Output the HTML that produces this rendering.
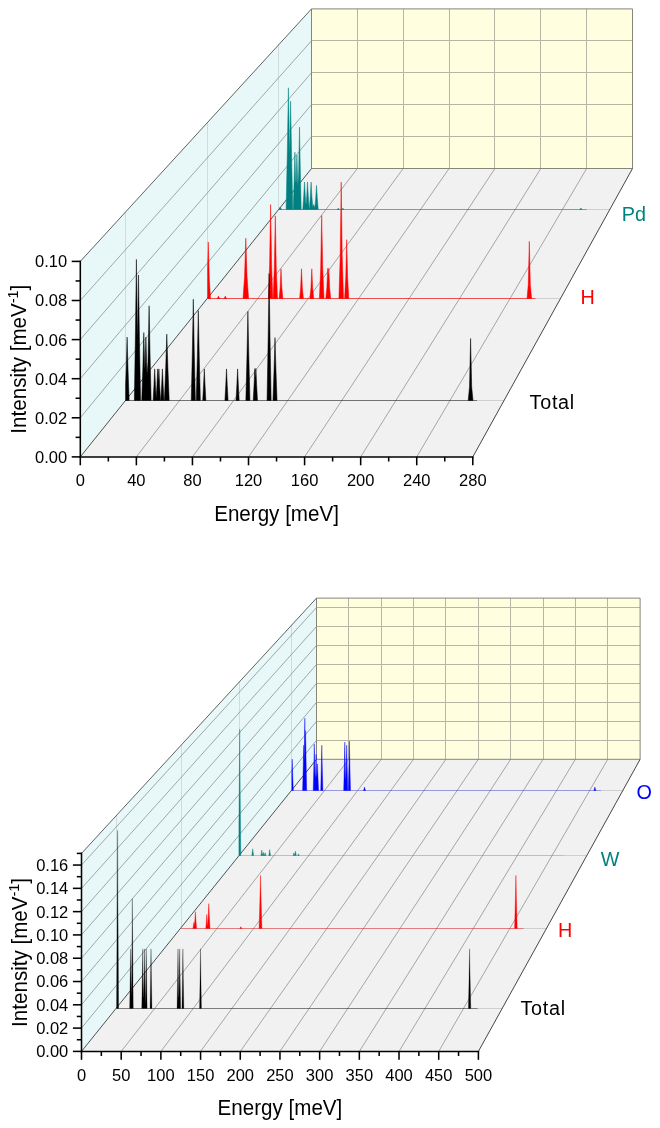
<!DOCTYPE html>
<html lang="en">
<head>
<meta charset="utf-8">
<title>Vibrational spectra</title>
<style>
html,body{margin:0;padding:0;background:#fff;}
body{width:660px;height:1128px;overflow:hidden;}
svg{display:block;font-family:"Liberation Sans", Arial, Helvetica, sans-serif;}
</style>
</head>
<body>
<svg width="660" height="1128" viewBox="0 0 660 1128">
<rect width="660" height="1128" fill="#fff"/>
<g id="plot-top">
<polygon points="311.5,8.9 632.5,8.9 632.5,168.5 311.5,168.5" fill="#ffffe0"/>
<polygon points="80.3,261.4 311.5,8.9 311.5,168.5 80.3,456.9" fill="#e8f8f8"/>
<polygon points="80.3,456.9 311.5,168.5 632.5,168.5 472.8,456.9" fill="#f1f1f1"/>
<line x1="357.5" y1="168.5" x2="357.5" y2="8.9" stroke="#b6b6a4" stroke-width="1"/>
<line x1="403.5" y1="168.5" x2="403.5" y2="8.9" stroke="#b6b6a4" stroke-width="1"/>
<line x1="449.5" y1="168.5" x2="449.5" y2="8.9" stroke="#b6b6a4" stroke-width="1"/>
<line x1="494.5" y1="168.5" x2="494.5" y2="8.9" stroke="#b6b6a4" stroke-width="1"/>
<line x1="540.5" y1="168.5" x2="540.5" y2="8.9" stroke="#b6b6a4" stroke-width="1"/>
<line x1="586.5" y1="168.5" x2="586.5" y2="8.9" stroke="#b6b6a4" stroke-width="1"/>
<line x1="311.5" y1="136.5" x2="632.5" y2="136.5" stroke="#b6b6a4" stroke-width="1"/>
<line x1="311.5" y1="104.5" x2="632.5" y2="104.5" stroke="#b6b6a4" stroke-width="1"/>
<line x1="311.5" y1="72.5" x2="632.5" y2="72.5" stroke="#b6b6a4" stroke-width="1"/>
<line x1="311.5" y1="40.5" x2="632.5" y2="40.5" stroke="#b6b6a4" stroke-width="1"/>
<line x1="125.5" y1="400.15" x2="125.5" y2="211.71" stroke="#d0dcdc" stroke-width="1"/>
<line x1="125.73" y1="400.5" x2="504.18" y2="400.5" stroke="#cfcfcf" stroke-width="1"/>
<line x1="207.5" y1="298.12" x2="207.5" y2="122.39" stroke="#d0dcdc" stroke-width="1"/>
<line x1="207.48" y1="298.5" x2="560.65" y2="298.5" stroke="#cfcfcf" stroke-width="1"/>
<line x1="278.5" y1="208.98" x2="278.5" y2="44.34" stroke="#d0dcdc" stroke-width="1"/>
<line x1="279" y1="209.5" x2="610.05" y2="209.5" stroke="#cfcfcf" stroke-width="1"/>
<line x1="80.3" y1="417.8" x2="311.5" y2="136.58" stroke="#7a8282" stroke-width="0.68"/>
<line x1="80.3" y1="378.7" x2="311.5" y2="104.66" stroke="#7a8282" stroke-width="0.68"/>
<line x1="80.3" y1="339.6" x2="311.5" y2="72.74" stroke="#7a8282" stroke-width="0.68"/>
<line x1="80.3" y1="300.5" x2="311.5" y2="40.82" stroke="#7a8282" stroke-width="0.68"/>
<line x1="136.37" y1="456.9" x2="357.36" y2="168.5" stroke="#7c7c7c" stroke-width="0.65"/>
<line x1="192.44" y1="456.9" x2="403.21" y2="168.5" stroke="#7c7c7c" stroke-width="0.65"/>
<line x1="248.51" y1="456.9" x2="449.07" y2="168.5" stroke="#7c7c7c" stroke-width="0.65"/>
<line x1="304.59" y1="456.9" x2="494.93" y2="168.5" stroke="#7c7c7c" stroke-width="0.65"/>
<line x1="360.66" y1="456.9" x2="540.79" y2="168.5" stroke="#7c7c7c" stroke-width="0.65"/>
<line x1="416.73" y1="456.9" x2="586.64" y2="168.5" stroke="#7c7c7c" stroke-width="0.65"/>
<g fill="none" stroke="#5a5a5a" stroke-width="0.9" stroke-linejoin="round">
<polygon points="311.5,8.9 632.5,8.9 632.5,168.5 311.5,168.5" fill="none" stroke="#85857a" stroke-width="1"/>
<line x1="80.3" y1="261.4" x2="311.5" y2="8.9" stroke="#505050" stroke-width="0.9"/>
<line x1="80.3" y1="456.9" x2="311.5" y2="168.5" stroke="#333" stroke-width="0.85"/>
<line x1="472.8" y1="456.9" x2="632.5" y2="168.5" stroke="#3c3c3c" stroke-width="0.95"/>
</g>
<line x1="279.3" y1="209.5" x2="586.7" y2="209.5" stroke="#008080" stroke-width="1" stroke-opacity="0.5"/>
<path d="M279.3,209.5L279.3,209.5L279.3,208.72L279.57,208.3L280.2,207.1L280.83,208.3L281.6,209.5L281.6,209.5ZM286.1,209.5L286.1,209.5L287.36,148.89L288.4,87.8L289.44,148.89L289.61,155.4L290.6,101.3L290.7,106.76L291.59,155.4L292.8,209.5L292.8,209.5ZM293.2,209.5L293.2,209.5L294.13,181L294.9,152.2L295.2,163.44L295.66,180.66L296.13,182.35L296.6,165.61L296.9,154.9L297.66,182.02L297.8,186.14L298.6,174.25L298.74,168.03L299.5,127.1L300.26,168.03L301.2,209.5L301.2,209.5ZM302.8,209.5L302.8,209.5L303.74,195.66L304.5,182L305.26,195.66L305.8,203.62L306.2,203.62L306.74,195.66L307.5,182L308.26,195.66L309.2,209.5L309.2,209.5ZM309.4,209.5L309.4,209.5L310.34,195.66L311.1,182L311.87,195.82L312,197.74L312.8,207.4L312.94,207.03L313.7,204.6L314.46,207.03L314.8,207.93L315.4,201.77L315.74,197.37L316.5,185.4L317.26,197.37L318.2,209.5L318.2,209.5ZM337.2,209.5L337.2,209.5L337.81,208.84L338.3,208.2L338.8,208.86L339.4,209.5L339.4,209.5ZM341.8,209.5L341.8,209.5L342.4,208.86L342.9,208.2L343.39,208.84L344,209.5L344,209.5ZM579.8,209.5L579.8,209.5L580.4,208.81L580.9,208.1L581.39,208.79L582,209.5L582,209.5Z" fill="#008080" stroke="#008080" stroke-width="0.5" stroke-linejoin="miter" stroke-miterlimit="2"/>
<text transform="translate(621.7,221) scale(1,1.03)" font-size="19.8" fill="#008080" text-anchor="start">Pd</text>
<line x1="207.6" y1="298.5" x2="535.5" y2="298.5" stroke="#ff0000" stroke-width="1" stroke-opacity="0.62"/>
<path d="M207.6,298.5L207.6,298.5L207.6,267.57L208.3,242L209.29,278.16L210.5,298.5L210.5,298.5ZM216.9,298.5L216.9,298.5L217.78,297.64L218.5,296.1L219.22,297.64L220.1,298.5L220.1,298.5ZM223.7,298.5L223.7,298.5L224.58,297.64L225.3,296.1L226.02,297.64L226.9,298.5L226.9,298.5ZM243,298.5L243,298.5L244.54,276.79L245.8,238.2L247.06,276.79L248.6,298.5L248.6,298.5ZM268.4,298.5L268.4,298.5L269.61,264.66L270.6,204.5L271.59,264.66L272.8,298.5L272.8,298.5ZM273.1,298.5L273.1,298.5L274.31,268.76L275.3,215.9L276.29,268.76L277.5,298.5L277.5,298.5ZM279.1,298.5L279.1,298.5L280.14,287.86L281,268.8L281.86,287.86L282.9,298.5L282.9,298.5ZM299.6,298.5L299.6,298.5L300.64,287.86L301.5,268.8L302.36,287.86L303.4,298.5L303.4,298.5ZM309.9,298.5L309.9,298.5L310.94,287.86L311.8,268.8L312.66,287.86L313.7,298.5L313.7,298.5ZM319.4,298.5L319.4,298.5L320.66,268.74L321.7,215.5L322.74,268.74L324,298.5L324,298.5ZM325.8,298.5L325.8,298.5L326.84,287.68L326.9,286.38L327.7,268.3L327.94,273.73L328.56,273.73L328.8,268.3L329.6,286.38L329.66,287.68L330.7,298.5L330.7,298.5ZM338.9,298.5L338.9,298.5L340.16,256.76L341.2,182.1L342.24,256.76L343.5,298.5L343.5,298.5ZM344.6,298.5L344.6,298.5L345.75,277.42L346.7,239.7L347.64,277.13L348.8,298.5L348.8,298.5ZM527,298.5L527,298.5L528.26,284.85L529.3,241.4L530.33,284.59L531.6,298.5L531.6,298.5Z" fill="#ff0000" stroke="#ff0000" stroke-width="0.5" stroke-linejoin="miter" stroke-miterlimit="2"/>
<text transform="translate(580.4,304) scale(1,1.03)" font-size="19.8" fill="#ff0000" text-anchor="start">H</text>
<line x1="125.6" y1="400.5" x2="477" y2="400.5" stroke="#000000" stroke-width="1" stroke-opacity="0.45"/>
<path d="M125.6,400.5L125.6,400.5L125.6,385.04L126.18,368.71L127.1,337.1L128.02,368.71L129.15,400.5L129.15,400.5ZM134.35,400.5L134.35,400.5L135.48,329.76L136.4,259.4L136.45,263.22L137.32,329.76L137.58,337.58L138.45,278.4L138.5,275L139.42,337.58L140.55,400.5L140.55,400.5ZM141.75,400.5L141.75,400.5L142.88,366.46L143.8,332.6L143.85,334.44L144.72,366.46L144.98,368.71L145.85,338.82L145.9,337.1L146.82,368.71L147.05,375.2L147.95,362.7L148.18,353.02L149.1,305.8L150.02,353.02L151.15,400.5L151.15,400.5ZM153.1,400.5L153.1,400.5L153.98,384.7L154.7,368.9L155.42,384.7L156.1,396.91L156.3,396.91L156.98,384.7L157.3,377.68L157.7,368.9L158.18,379.43L158.42,379.43L158.9,368.9L159.3,377.68L159.62,384.7L160.5,400.5L160.5,400.5ZM160.8,400.5L160.8,400.5L161.68,384.7L162.4,368.9L163.12,384.7L164,400.5L164,400.5ZM164.4,400.5L164.4,400.5L165.72,367.3L166.8,334.1L167.88,367.3L169.2,400.5L169.2,400.5ZM191.25,400.5L191.25,400.5L192.38,349.71L193.3,299.2L194.22,349.71L195.35,400.5L195.35,400.5ZM196.25,400.5L196.25,400.5L197.38,355.43L198.3,310.6L199.22,355.43L200.35,400.5L200.35,400.5ZM202.7,400.5L202.7,400.5L203.58,384.7L204.3,368.9L205.02,384.7L205.9,400.5L205.9,400.5ZM224.9,400.5L224.9,400.5L225.78,384.7L226.5,368.9L227.22,384.7L228.1,400.5L228.1,400.5ZM236,400.5L236,400.5L236.88,384.7L237.6,368.9L238.32,384.7L239.2,400.5L239.2,400.5ZM245.85,400.5L245.85,400.5L246.98,355.83L247.9,311.4L248.82,355.83L249.95,400.5L249.95,400.5ZM253.2,400.5L253.2,400.5L254.08,384.5L254.3,379.61L254.8,368.5L255.18,376.94L255.52,376.94L255.9,368.5L256.4,379.61L256.62,384.5L257.5,400.5L257.5,400.5ZM267.05,400.5L267.05,400.5L268.18,336.83L269.1,273.5L270.02,336.83L271.15,400.5L271.15,400.5ZM272.95,400.5L272.95,400.5L274.08,368.96L275,337.6L275.92,368.96L277.05,400.5L277.05,400.5ZM468.2,400.5L468.2,400.5L469.52,386.86L470.6,338.5L471.68,386.86L473,400.5L473,400.5Z" fill="#000000" stroke="#000000" stroke-width="0.5" stroke-linejoin="miter" stroke-miterlimit="2"/>
<text transform="translate(529.6,409.4) scale(1,1.03)" font-size="19.8" fill="#000000" text-anchor="start" letter-spacing="0.7">Total</text>
<g stroke="#000" stroke-width="1.55" stroke-linecap="butt">
<line x1="80.3" y1="260.62" x2="80.3" y2="457.67"/>
<line x1="79.52" y1="456.9" x2="473.57" y2="456.9"/>
<line x1="80.3" y1="456.9" x2="80.3" y2="465.3"/>
<line x1="136.37" y1="456.9" x2="136.37" y2="465.3"/>
<line x1="192.44" y1="456.9" x2="192.44" y2="465.3"/>
<line x1="248.51" y1="456.9" x2="248.51" y2="465.3"/>
<line x1="304.59" y1="456.9" x2="304.59" y2="465.3"/>
<line x1="360.66" y1="456.9" x2="360.66" y2="465.3"/>
<line x1="416.73" y1="456.9" x2="416.73" y2="465.3"/>
<line x1="472.8" y1="456.9" x2="472.8" y2="465.3"/>
<line x1="108.34" y1="456.9" x2="108.34" y2="461.5"/>
<line x1="164.41" y1="456.9" x2="164.41" y2="461.5"/>
<line x1="220.48" y1="456.9" x2="220.48" y2="461.5"/>
<line x1="276.55" y1="456.9" x2="276.55" y2="461.5"/>
<line x1="332.62" y1="456.9" x2="332.62" y2="461.5"/>
<line x1="388.69" y1="456.9" x2="388.69" y2="461.5"/>
<line x1="444.76" y1="456.9" x2="444.76" y2="461.5"/>
<line x1="80.3" y1="456.9" x2="71.7" y2="456.9"/>
<line x1="80.3" y1="417.8" x2="71.7" y2="417.8"/>
<line x1="80.3" y1="378.7" x2="71.7" y2="378.7"/>
<line x1="80.3" y1="339.6" x2="71.7" y2="339.6"/>
<line x1="80.3" y1="300.5" x2="71.7" y2="300.5"/>
<line x1="80.3" y1="261.4" x2="71.7" y2="261.4"/>
<line x1="80.3" y1="437.35" x2="75.6" y2="437.35"/>
<line x1="80.3" y1="398.25" x2="75.6" y2="398.25"/>
<line x1="80.3" y1="359.15" x2="75.6" y2="359.15"/>
<line x1="80.3" y1="320.05" x2="75.6" y2="320.05"/>
<line x1="80.3" y1="280.95" x2="75.6" y2="280.95"/>
</g>
<g font-size="16.5" fill="#000">
<text x="80.3" y="486" text-anchor="middle">0</text>
<text x="136.37" y="486" text-anchor="middle">40</text>
<text x="192.44" y="486" text-anchor="middle">80</text>
<text x="248.51" y="486" text-anchor="middle">120</text>
<text x="304.59" y="486" text-anchor="middle">160</text>
<text x="360.66" y="486" text-anchor="middle">200</text>
<text x="416.73" y="486" text-anchor="middle">240</text>
<text x="472.8" y="486" text-anchor="middle">280</text>
<text x="67.1" y="462.8" text-anchor="end">0.00</text>
<text x="67.1" y="423.7" text-anchor="end">0.02</text>
<text x="67.1" y="384.6" text-anchor="end">0.04</text>
<text x="67.1" y="345.5" text-anchor="end">0.06</text>
<text x="67.1" y="306.4" text-anchor="end">0.08</text>
<text x="67.1" y="267.3" text-anchor="end">0.10</text>
</g>
<text transform="translate(276.55,520.5) scale(1,1.03)" font-size="20.6" fill="#000" text-anchor="middle">Energy [meV]</text>
<text transform="translate(26,359.15) rotate(-90) scale(1,1.035)" font-size="20.6" text-anchor="middle" fill="#000">Intensity [meV<tspan font-size="14.4" dy="-8.2">-1</tspan><tspan dy="8.2">]</tspan></text>
</g>
<g id="plot-bottom">
<polygon points="316.5,598.1 640.1,598.1 640.1,759.3 316.5,759.3" fill="#ffffe0"/>
<polygon points="81.5,853.4 316.5,598.1 316.5,759.3 81.5,1051.4" fill="#e8f8f8"/>
<polygon points="81.5,1051.4 316.5,759.3 640.1,759.3 478.4,1051.4" fill="#f1f1f1"/>
<line x1="348.5" y1="759.3" x2="348.5" y2="598.1" stroke="#b6b6a4" stroke-width="1"/>
<line x1="381.5" y1="759.3" x2="381.5" y2="598.1" stroke="#b6b6a4" stroke-width="1"/>
<line x1="413.5" y1="759.3" x2="413.5" y2="598.1" stroke="#b6b6a4" stroke-width="1"/>
<line x1="445.5" y1="759.3" x2="445.5" y2="598.1" stroke="#b6b6a4" stroke-width="1"/>
<line x1="478.5" y1="759.3" x2="478.5" y2="598.1" stroke="#b6b6a4" stroke-width="1"/>
<line x1="510.5" y1="759.3" x2="510.5" y2="598.1" stroke="#b6b6a4" stroke-width="1"/>
<line x1="543.5" y1="759.3" x2="543.5" y2="598.1" stroke="#b6b6a4" stroke-width="1"/>
<line x1="575.5" y1="759.3" x2="575.5" y2="598.1" stroke="#b6b6a4" stroke-width="1"/>
<line x1="607.5" y1="759.3" x2="607.5" y2="598.1" stroke="#b6b6a4" stroke-width="1"/>
<line x1="316.5" y1="740.5" x2="640.1" y2="740.5" stroke="#b6b6a4" stroke-width="1"/>
<line x1="316.5" y1="721.5" x2="640.1" y2="721.5" stroke="#b6b6a4" stroke-width="1"/>
<line x1="316.5" y1="702.5" x2="640.1" y2="702.5" stroke="#b6b6a4" stroke-width="1"/>
<line x1="316.5" y1="683.5" x2="640.1" y2="683.5" stroke="#b6b6a4" stroke-width="1"/>
<line x1="316.5" y1="664.5" x2="640.1" y2="664.5" stroke="#b6b6a4" stroke-width="1"/>
<line x1="316.5" y1="645.5" x2="640.1" y2="645.5" stroke="#b6b6a4" stroke-width="1"/>
<line x1="316.5" y1="626.5" x2="640.1" y2="626.5" stroke="#b6b6a4" stroke-width="1"/>
<line x1="316.5" y1="607.5" x2="640.1" y2="607.5" stroke="#b6b6a4" stroke-width="1"/>
<line x1="116.5" y1="1007.8" x2="116.5" y2="815.29" stroke="#d0dcdc" stroke-width="1"/>
<line x1="116.54" y1="1008.5" x2="502.51" y2="1008.5" stroke="#cfcfcf" stroke-width="1"/>
<line x1="181.5" y1="927.47" x2="181.5" y2="745.08" stroke="#d0dcdc" stroke-width="1"/>
<line x1="181.12" y1="928.5" x2="546.95" y2="928.5" stroke="#cfcfcf" stroke-width="1"/>
<line x1="239.5" y1="855.16" x2="239.5" y2="681.88" stroke="#d0dcdc" stroke-width="1"/>
<line x1="239.3" y1="855.5" x2="586.98" y2="855.5" stroke="#cfcfcf" stroke-width="1"/>
<line x1="291.5" y1="789.73" x2="291.5" y2="624.7" stroke="#d0dcdc" stroke-width="1"/>
<line x1="291.98" y1="790.5" x2="623.23" y2="790.5" stroke="#cfcfcf" stroke-width="1"/>
<line x1="81.5" y1="1028.11" x2="316.5" y2="740.34" stroke="#7a8282" stroke-width="0.68"/>
<line x1="81.5" y1="1004.81" x2="316.5" y2="721.37" stroke="#7a8282" stroke-width="0.68"/>
<line x1="81.5" y1="981.52" x2="316.5" y2="702.41" stroke="#7a8282" stroke-width="0.68"/>
<line x1="81.5" y1="958.22" x2="316.5" y2="683.44" stroke="#7a8282" stroke-width="0.68"/>
<line x1="81.5" y1="934.93" x2="316.5" y2="664.48" stroke="#7a8282" stroke-width="0.68"/>
<line x1="81.5" y1="911.64" x2="316.5" y2="645.51" stroke="#7a8282" stroke-width="0.68"/>
<line x1="81.5" y1="888.34" x2="316.5" y2="626.55" stroke="#7a8282" stroke-width="0.68"/>
<line x1="81.5" y1="865.05" x2="316.5" y2="607.58" stroke="#7a8282" stroke-width="0.68"/>
<line x1="121.19" y1="1051.4" x2="348.86" y2="759.3" stroke="#7c7c7c" stroke-width="0.65"/>
<line x1="160.88" y1="1051.4" x2="381.22" y2="759.3" stroke="#7c7c7c" stroke-width="0.65"/>
<line x1="200.57" y1="1051.4" x2="413.58" y2="759.3" stroke="#7c7c7c" stroke-width="0.65"/>
<line x1="240.26" y1="1051.4" x2="445.94" y2="759.3" stroke="#7c7c7c" stroke-width="0.65"/>
<line x1="279.95" y1="1051.4" x2="478.3" y2="759.3" stroke="#7c7c7c" stroke-width="0.65"/>
<line x1="319.64" y1="1051.4" x2="510.66" y2="759.3" stroke="#7c7c7c" stroke-width="0.65"/>
<line x1="359.33" y1="1051.4" x2="543.02" y2="759.3" stroke="#7c7c7c" stroke-width="0.65"/>
<line x1="399.02" y1="1051.4" x2="575.38" y2="759.3" stroke="#7c7c7c" stroke-width="0.65"/>
<line x1="438.71" y1="1051.4" x2="607.74" y2="759.3" stroke="#7c7c7c" stroke-width="0.65"/>
<g fill="none" stroke="#5a5a5a" stroke-width="0.9" stroke-linejoin="round">
<polygon points="316.5,598.1 640.1,598.1 640.1,759.3 316.5,759.3" fill="none" stroke="#85857a" stroke-width="1"/>
<line x1="81.5" y1="853.4" x2="316.5" y2="598.1" stroke="#505050" stroke-width="0.9"/>
<line x1="81.5" y1="1051.4" x2="316.5" y2="759.3" stroke="#333" stroke-width="0.85"/>
<line x1="478.4" y1="1051.4" x2="640.1" y2="759.3" stroke="#3c3c3c" stroke-width="0.95"/>
</g>
<line x1="291.8" y1="790.5" x2="600.9" y2="790.5" stroke="#0000ff" stroke-width="1" stroke-opacity="0.26"/>
<path d="M291.8,790.5L291.8,790.5L291.8,771.79L292.2,759.1L292.69,774.64L293.3,790.5L293.3,790.5ZM302.6,790.5L302.6,790.5L303.2,768.04L303.7,745.2L304.19,761.22L304.31,753.98L304.5,740.11L304.8,718.2L305.11,740.84L305.3,748.68L305.6,730.5L305.9,748.68L306.1,760.75L306.7,790.5L306.7,790.5ZM313.2,790.5L313.2,790.5L313.81,767.07L314.3,744.1L314.8,767.49L315,775.16L315.4,778.53L315.61,772.22L316.1,754.3L316.4,765.27L316.6,772.55L317,777.31L317.2,771.96L317.5,763.9L318,777.31L318.6,790.5L318.6,790.5ZM320.7,790.5L320.7,790.5L321.31,767.62L321.8,745.2L322.3,768.04L322.9,790.5L322.9,790.5ZM343.7,790.5L343.7,790.5L344.31,766.06L344.8,742.1L345.3,766.5L345.6,778.5L345.9,779.27L346.2,768.04L346.7,745.2L347.19,767.62L347.8,790.5L347.8,790.5ZM348.3,790.5L348.3,790.5L348.9,766L349.4,741.1L349.89,765.55L350.5,790.5L350.5,790.5ZM363.5,790.5L363.5,790.5L364.05,788.8L364.5,787.1L364.95,788.8L365.5,790.5L365.5,790.5ZM593.9,790.5L593.9,790.5L594.45,788.8L594.9,787.1L595.35,788.8L595.9,790.5L595.9,790.5Z" fill="#0000ff" stroke="#0000ff" stroke-width="0.4" stroke-linejoin="miter" stroke-miterlimit="2"/>
<text transform="translate(636.4,799.4) scale(1,1.03)" font-size="19.8" fill="#0000ff" text-anchor="start">O</text>
<line x1="238.9" y1="855.5" x2="563.6" y2="855.5" stroke="#008080" stroke-width="1" stroke-opacity="0.14"/>
<path d="M238.9,855.5L238.9,855.5L238.9,824.16L239.2,792.82L239.7,729.1L240.19,791.66L240.8,855.5L240.8,855.5ZM251.8,855.5L251.8,855.5L252.29,852.18L252.7,848.8L253.1,852.11L253.6,855.5L253.6,855.5ZM260.9,855.5L260.9,855.5L261.4,852.72L261.8,850L262.2,852.72L262.7,855.5L262.7,855.5ZM262.8,855.5L262.8,855.5L263.24,853.9L263.6,852.3L263.96,853.9L264.4,855.5L264.4,855.5ZM264.4,855.5L264.4,855.5L264.84,854.15L265.2,852.8L265.56,854.15L266,855.5L266,855.5ZM268.8,855.5L268.8,855.5L269.3,852.46L269.7,849.5L270.1,852.46L270.6,855.5L270.6,855.5ZM293.1,855.5L293.1,855.5L293.54,854.15L293.9,852.8L294.26,854.15L294.7,855.5L294.7,855.5ZM294.7,855.5L294.7,855.5L295.14,853.3L295.5,851.1L295.86,853.3L296.3,855.5L296.3,855.5ZM297.7,855.5L297.7,855.5L298.14,854.65L298.5,853.8L298.86,854.65L299.3,855.5L299.3,855.5Z" fill="#008080" stroke="#008080" stroke-width="0.4" stroke-linejoin="miter" stroke-miterlimit="2"/>
<text transform="translate(600.8,866) scale(1,1.03)" font-size="19.8" fill="#008080" text-anchor="start">W</text>
<line x1="181" y1="928.5" x2="523.6" y2="928.5" stroke="#ff0000" stroke-width="1" stroke-opacity="0.4"/>
<path d="M192.9,928.5L192.9,928.5L193.45,925.45L193.9,922.4L194.2,924.43L194.35,925.45L194.86,920.15L194.9,919.53L195.4,911.8L195.94,920.15L196.6,928.5L196.6,928.5ZM205.8,928.5L205.8,928.5L206.35,921.5L206.8,914.5L207.25,921.5L207.6,925.95L207.8,924.73L208.26,916.05L208.8,903.6L209.34,916.05L210,928.5L210,928.5ZM239.8,928.5L239.8,928.5L240.35,927.6L240.8,926.7L241.25,927.6L241.8,928.5L241.8,928.5ZM259.1,928.5L259.1,928.5L259.87,902L260.5,875.5L261.13,902L261.9,928.5L261.9,928.5ZM514.6,928.5L514.6,928.5L515.31,902.14L515.9,875.4L516.49,902.14L517.2,928.5L517.2,928.5Z" fill="#ff0000" stroke="#ff0000" stroke-width="0.4" stroke-linejoin="miter" stroke-miterlimit="2"/>
<text transform="translate(557.9,936.6) scale(1,1.03)" font-size="19.8" fill="#ff0000" text-anchor="start">H</text>
<line x1="116.6" y1="1008.5" x2="477.6" y2="1008.5" stroke="#000000" stroke-width="1" stroke-opacity="0.4"/>
<path d="M116.6,1008.5L116.6,1008.5L117.15,919.45L117.6,830.4L118.05,919.45L118.6,1008.5L118.6,1008.5ZM129.65,1008.5L129.65,1008.5L130.17,978.84L130.6,948.9L131.03,978.84L131.35,997.09L131.55,987.49L131.87,953.86L132.3,898.7L132.73,953.86L133.25,1008.5L133.25,1008.5ZM141.75,1008.5L141.75,1008.5L142.27,978.84L142.7,948.9L143.13,978.84L143.45,997.09L143.65,997.09L143.97,978.84L144.4,948.9L144.83,978.84L145.25,1002.8L145.35,1002.8L145.77,978.84L146.2,948.9L146.63,978.84L147.15,1008.5L147.15,1008.5ZM150.05,1008.5L150.05,1008.5L150.57,978.84L151,948.9L151.43,978.84L151.95,1008.5L151.95,1008.5ZM177.05,1008.5L177.05,1008.5L177.57,978.84L178,948.9L178.43,978.84L178.75,997.09L178.95,997.09L179.27,978.84L179.7,948.9L180.13,978.84L180.65,1008.5L180.65,1008.5ZM181.95,1008.5L181.95,1008.5L182.47,978.84L182.9,948.9L183.33,978.84L183.85,1008.5L183.85,1008.5ZM199.55,1008.5L199.55,1008.5L200.07,978.84L200.5,948.9L200.93,978.84L201.45,1008.5L201.45,1008.5ZM468.4,1008.5L468.4,1008.5L469.06,978.65L469.6,948.8L470.14,978.65L470.8,1008.5L470.8,1008.5Z" fill="#000000" stroke="#000000" stroke-width="0.25" stroke-linejoin="miter" stroke-miterlimit="2"/>
<text transform="translate(520.5,1014.5) scale(1,1.03)" font-size="19.8" fill="#000000" text-anchor="start" letter-spacing="0.7">Total</text>
<g stroke="#000" stroke-width="1.55" stroke-linecap="butt">
<line x1="81.5" y1="852.62" x2="81.5" y2="1052.18"/>
<line x1="80.72" y1="1051.4" x2="479.17" y2="1051.4"/>
<line x1="81.5" y1="1051.4" x2="81.5" y2="1059.8"/>
<line x1="121.19" y1="1051.4" x2="121.19" y2="1059.8"/>
<line x1="160.88" y1="1051.4" x2="160.88" y2="1059.8"/>
<line x1="200.57" y1="1051.4" x2="200.57" y2="1059.8"/>
<line x1="240.26" y1="1051.4" x2="240.26" y2="1059.8"/>
<line x1="279.95" y1="1051.4" x2="279.95" y2="1059.8"/>
<line x1="319.64" y1="1051.4" x2="319.64" y2="1059.8"/>
<line x1="359.33" y1="1051.4" x2="359.33" y2="1059.8"/>
<line x1="399.02" y1="1051.4" x2="399.02" y2="1059.8"/>
<line x1="438.71" y1="1051.4" x2="438.71" y2="1059.8"/>
<line x1="478.4" y1="1051.4" x2="478.4" y2="1059.8"/>
<line x1="101.34" y1="1051.4" x2="101.34" y2="1056"/>
<line x1="141.03" y1="1051.4" x2="141.03" y2="1056"/>
<line x1="180.72" y1="1051.4" x2="180.72" y2="1056"/>
<line x1="220.41" y1="1051.4" x2="220.41" y2="1056"/>
<line x1="260.11" y1="1051.4" x2="260.11" y2="1056"/>
<line x1="299.79" y1="1051.4" x2="299.79" y2="1056"/>
<line x1="339.48" y1="1051.4" x2="339.48" y2="1056"/>
<line x1="379.17" y1="1051.4" x2="379.17" y2="1056"/>
<line x1="418.86" y1="1051.4" x2="418.86" y2="1056"/>
<line x1="458.55" y1="1051.4" x2="458.55" y2="1056"/>
<line x1="81.5" y1="1051.4" x2="72.9" y2="1051.4"/>
<line x1="81.5" y1="1028.11" x2="72.9" y2="1028.11"/>
<line x1="81.5" y1="1004.81" x2="72.9" y2="1004.81"/>
<line x1="81.5" y1="981.52" x2="72.9" y2="981.52"/>
<line x1="81.5" y1="958.22" x2="72.9" y2="958.22"/>
<line x1="81.5" y1="934.93" x2="72.9" y2="934.93"/>
<line x1="81.5" y1="911.64" x2="72.9" y2="911.64"/>
<line x1="81.5" y1="888.34" x2="72.9" y2="888.34"/>
<line x1="81.5" y1="865.05" x2="72.9" y2="865.05"/>
<line x1="81.5" y1="1039.75" x2="76.8" y2="1039.75"/>
<line x1="81.5" y1="1016.46" x2="76.8" y2="1016.46"/>
<line x1="81.5" y1="993.16" x2="76.8" y2="993.16"/>
<line x1="81.5" y1="969.87" x2="76.8" y2="969.87"/>
<line x1="81.5" y1="946.58" x2="76.8" y2="946.58"/>
<line x1="81.5" y1="923.28" x2="76.8" y2="923.28"/>
<line x1="81.5" y1="899.99" x2="76.8" y2="899.99"/>
<line x1="81.5" y1="876.69" x2="76.8" y2="876.69"/>
<line x1="81.5" y1="853.4" x2="76.8" y2="853.4"/>
</g>
<g font-size="16.5" fill="#000">
<text x="81.5" y="1080.5" text-anchor="middle">0</text>
<text x="121.19" y="1080.5" text-anchor="middle">50</text>
<text x="160.88" y="1080.5" text-anchor="middle">100</text>
<text x="200.57" y="1080.5" text-anchor="middle">150</text>
<text x="240.26" y="1080.5" text-anchor="middle">200</text>
<text x="279.95" y="1080.5" text-anchor="middle">250</text>
<text x="319.64" y="1080.5" text-anchor="middle">300</text>
<text x="359.33" y="1080.5" text-anchor="middle">350</text>
<text x="399.02" y="1080.5" text-anchor="middle">400</text>
<text x="438.71" y="1080.5" text-anchor="middle">450</text>
<text x="478.4" y="1080.5" text-anchor="middle">500</text>
<text x="68.3" y="1057.3" text-anchor="end">0.00</text>
<text x="68.3" y="1034.01" text-anchor="end">0.02</text>
<text x="68.3" y="1010.71" text-anchor="end">0.04</text>
<text x="68.3" y="987.42" text-anchor="end">0.06</text>
<text x="68.3" y="964.12" text-anchor="end">0.08</text>
<text x="68.3" y="940.83" text-anchor="end">0.10</text>
<text x="68.3" y="917.54" text-anchor="end">0.12</text>
<text x="68.3" y="894.24" text-anchor="end">0.14</text>
<text x="68.3" y="870.95" text-anchor="end">0.16</text>
</g>
<text transform="translate(279.95,1115) scale(1,1.03)" font-size="20.6" fill="#000" text-anchor="middle">Energy [meV]</text>
<text transform="translate(27.2,952.4) rotate(-90) scale(1,1.035)" font-size="20.6" text-anchor="middle" fill="#000">Intensity [meV<tspan font-size="14.4" dy="-8.2">-1</tspan><tspan dy="8.2">]</tspan></text>
</g>
</svg>
</body>
</html>
